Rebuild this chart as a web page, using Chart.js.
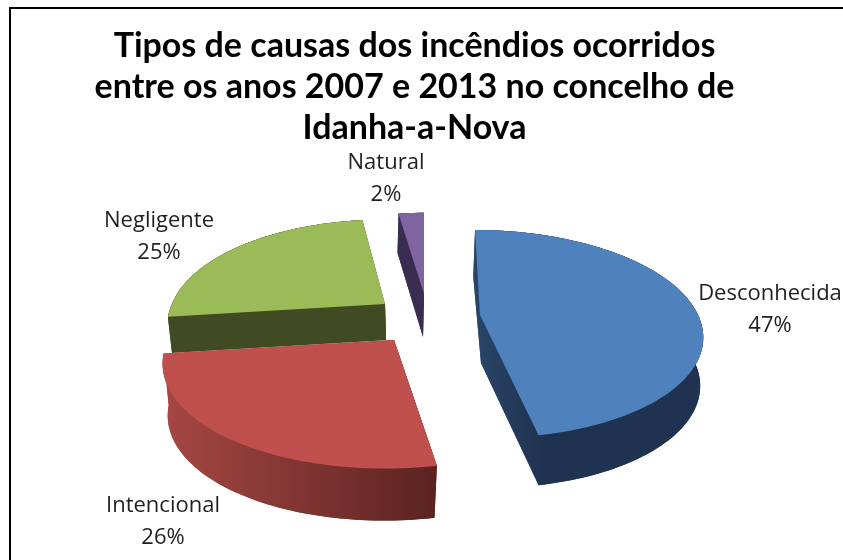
<!DOCTYPE html>
<html><head><meta charset="utf-8">
<style>html,body{margin:0;padding:0;background:#fff;overflow:hidden}#w{width:843px;height:560px}canvas{display:block;filter:blur(0.5px)}</style>
<script src="https://cdn.jsdelivr.net/npm/chart.js@4"></script></head>
<body><div id="w"><canvas id="c" width="843" height="560"></canvas></div>
<script>
const categories = ['Desconhecida','Intencional','Negligente','Natural'];
const values = [47,26,25,2];
const titleLines = ['Tipos de causas dos incêndios ocorridos','entre os anos 2007 e 2013 no concelho de','Idanha-a-Nova'];
const topColors = ['#4f81bd','#c0504d','#9bbb59','#8064a2'];
// projection of every slice: top plane (a*, r*), bottom plane (b*, q*), perspective shears
const K = 0.183;
const proj = [
 {ax:480,ay:315,rx:218,ry:100.5,bx:481,by:363,qx:214,qy:102,sF:32,sB:50,sN:40,wall:['#2a4568','#1f3350']},
 {ax:394,ay:340,rx:226,ry:105,bx:393,by:392,qx:220,qy:105,sF:0,sB:0,sN:-40,wall:['#a64744','#5a2320']},
 {ax:385,ay:304,rx:213,ry:100,bx:386,by:340,qx:210,qy:100,sF:0,sB:0,sN:-35,wall:['#404a23','#404a23']},
 {ax:424,ay:294,rx:240,ry:96,bx:423,by:337,qx:240,qy:100,sF:0,sB:0,sN:0,wall:['#3b2d52','#3b2d52']}
];
const drawOrder = [3,2,1,0];
const labelPos = [[770,294,326],[163,506,538],[159,221,253],[386,163,195]];

function pt(a,b,c,d,sFar,sNear,th){
  const w = 1 + K*Math.cos(th);
  const sh = (w>1?sFar:sNear)*(1/w-1);
  return [a + (c*Math.sin(th))/w + sh, b - d*Math.cos(th)/w];
}
const pie3d = {
  id:'pie3d',
  beforeDraw(chart){
    const x=chart.ctx; x.save(); x.fillStyle='#fff'; x.fillRect(0,0,843,560);
    x.fillStyle='#000'; x.fillRect(9,7,834,2); x.fillRect(9,7,2,553); x.restore();
  },
  beforeDatasetsDraw(chart){
    const ctx=chart.ctx, arcs=chart.getDatasetMeta(0).data;
    drawOrder.forEach(i=>{
      const el=arcs[i], p=proj[i];
      const t0=el.startAngle+Math.PI/2, t1=el.endAngle+Math.PI/2;
      const n=Math.max(4,Math.round((t1-t0)*40));
      const top=[],bot=[];
      for(let k=0;k<=n;k++){
        const th=t0+(t1-t0)*k/n;
        top.push(pt(p.ax,p.ay,p.rx,p.ry,p.sF,p.sN,th));
        bot.push(pt(p.bx,p.by,p.qx,p.qy,p.sB,p.sN,th));
      }
      const xs=top.concat(bot).map(q=>q[0]);
      const g=ctx.createLinearGradient(Math.min(...xs),0,Math.max(...xs),0);
      g.addColorStop(0,p.wall[0]); g.addColorStop(i===0?0.3:1,p.wall[1]); if(i===0) g.addColorStop(1,p.wall[1]);
      ctx.save();
      ctx.fillStyle=g;
      const A=[p.ax,p.ay],B=[p.bx,p.by];
      const poly=pts=>{ctx.beginPath();pts.forEach((q,j)=>j?ctx.lineTo(...q):ctx.moveTo(...q));ctx.closePath();ctx.fill();};
      poly([A,top[0],bot[0],B]);
      poly([A,top[n],bot[n],B]);
      poly(top.concat(bot.slice().reverse()));
      poly([B].concat(bot));
      poly([A].concat(top).concat([B]));
      ctx.fillStyle=el.options.backgroundColor;
      poly([A].concat(top));
      ctx.restore();
    });
    return false;
  },
  afterDraw(chart){
    const ctx=chart.ctx;
    ctx.save();ctx.font='22px "Open Sans"';ctx.fillStyle='#1f1f1f';ctx.textAlign='center';ctx.textBaseline='middle';
    categories.forEach((c,i)=>{
      const l=labelPos[i];
      ctx.fillText(c,l[0],l[1]);
      ctx.fillText(values[i]+'%',l[0],l[2]);
    });
    ctx.restore();
  }
};
new Chart(document.getElementById('c'),{
  type:'pie',
  data:{labels:categories,datasets:[{data:values,backgroundColor:topColors,borderWidth:0}]},
  options:{
    responsive:false,animation:false,
    layout:{padding:{top:26,right:14}},
    plugins:{
      legend:{display:false},tooltip:{enabled:false},
      title:{display:true,text:titleLines,color:'#000',font:{family:'Lato',weight:'bold',size:34},lineHeight:1.33,padding:0}
    }
  },
  plugins:[pie3d]
});
</script></body></html>
